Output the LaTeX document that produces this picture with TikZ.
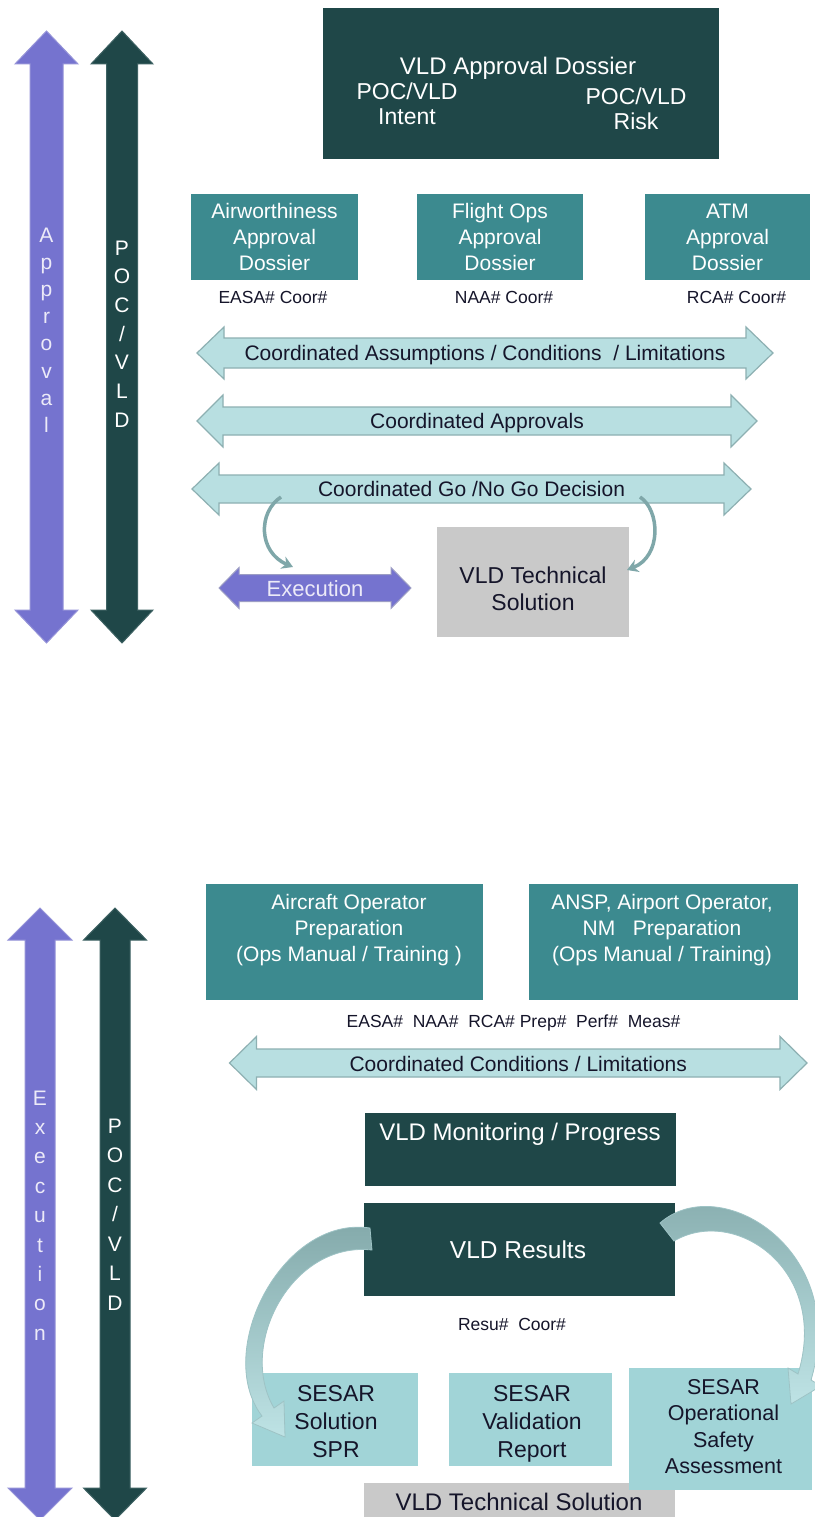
\documentclass[tikz,border=0pt]{standalone}
\usepackage{fontspec}
\setmainfont{Liberation Sans}
\usetikzlibrary{arrows.meta}

\definecolor{vpurple}{HTML}{7573CF}
\definecolor{vpurpleedge}{HTML}{9593D8}
\definecolor{deepteal}{HTML}{1F4748}
\definecolor{deeptealedge}{HTML}{3E6263}
\definecolor{boxteal}{HTML}{3C8A8F}
\definecolor{palecyan}{HTML}{B8DFE1}
\definecolor{palecyanedge}{HTML}{8DB0B2}
\definecolor{sesarcyan}{HTML}{A1D4D7}
\definecolor{techgray}{HTML}{C9C9C9}
\definecolor{curvedark}{HTML}{82A8A9}
\definecolor{curvemid}{HTML}{7FA7A9}
\definecolor{curvelight}{HTML}{BEE3E5}
\definecolor{curveedge}{HTML}{9EC3C5}
\definecolor{execedge}{HTML}{9C9DC4}
\definecolor{inktext}{HTML}{15152A}
\definecolor{lavwhite}{HTML}{ECEAF8}

% horizontal double block arrow:
% [style]{name}{x left tip}{x right tip}{y centre}{shaft half}{head half}{head length}
\newcommand\hdarrow[8][]{%
  \path[#1] (#3,#5) -- ({#3+#8},{#5-#7}) -- ({#3+#8},{#5-#6}) -- ({#4-#8},{#5-#6})
    -- ({#4-#8},{#5-#7}) -- (#4,#5) -- ({#4-#8},{#5+#7}) -- ({#4-#8},{#5+#6})
    -- ({#3+#8},{#5+#6}) -- ({#3+#8},{#5+#7}) -- cycle;
  \coordinate (#2) at ({(#3+#4)/2},#5);
}
% vertical double block arrow:
% [style]{name}{x centre}{y top tip}{y bottom tip}{shaft half}{head half}{head length}
\newcommand\vdarrow[8][]{%
  \path[#1] (#3,#4) -- ({#3+#7},{#4+#8}) -- ({#3+#6},{#4+#8}) -- ({#3+#6},{#5-#8})
    -- ({#3+#7},{#5-#8}) -- (#3,#5) -- ({#3-#7},{#5-#8}) -- ({#3-#6},{#5-#8})
    -- ({#3-#6},{#4+#8}) -- ({#3-#7},{#4+#8}) -- cycle;
  \coordinate (#2) at (#3,{(#4+#5)/2});
}

% multi-line texts are placed at the baseline of their last line
\tikzset{
  fs/.style 2 args={font=\fontsize{#1}{#2}\selectfont},
  wtext/.style={text=white, inner sep=0pt, align=center, anchor=base},
  ktext/.style={text=inktext, inner sep=0pt, align=center, anchor=base},
  vletter/.style={fs={21}{21}, inner sep=0pt, anchor=base},
  purplebar/.style={fill=vpurple, draw=vpurpleedge, line width=1pt},
  tealbar/.style={fill=deepteal, draw=deeptealedge, line width=1pt},
  cyanbar/.style={fill=palecyan, draw=palecyanedge, line width=1.2pt},
  execbar/.style={fill=vpurple, draw=execedge, line width=1pt},
  darkbox/.style={fill=deepteal},
  tealbox/.style={fill=boxteal},
  sesarbox/.style={fill=sesarcyan},
  graybox/.style={fill=techgray},
  thincurve/.style={draw=curvemid, line width=3.5pt, -{Stealth[length=11pt,width=13pt]}},
  bigcurve/.style={top color=curvedark, bottom color=curvelight, draw=curveedge, line width=0.8pt},
}

\begin{document}
\begin{tikzpicture}[x=1pt,y=-1pt]
\useasboundingbox[fill=white] (0,0) rectangle (814,1517);

% ================= approval phase =================
\vdarrow[purplebar]{approvalbar}{46.5}{31}{643}{16.5}{31.5}{33}
\vdarrow[tealbar]{pocbar1}{122}{31}{643}{15.5}{31}{33}
\foreach \ch [count=\i] in {A,p,p,r,o,v,a,l}
  \node[vletter, text=lavwhite] (appr-\i) at (46.5,{242+27.2*(\i-1)}) {\ch};
\foreach \ch [count=\i] in {P,O,C,/,V,L,D}
  \node[vletter, text=white] (pocA-\i) at (122,{255+28.7*(\i-1)}) {\ch};

% dossier
\path[darkbox] (323,8) rectangle (719,159);
\node[wtext, fs={24}{24}] (dossier) at (518,75) {VLD Approval Dossier};
\node[wtext, fs={23}{25}] (intent) at (407,125) {POC/VLD\\Intent};
\node[wtext, fs={23}{25}] (risk) at (636,130) {POC/VLD\\Risk};

% approval dossiers per domain
\path[tealbox] (191,194) rectangle (358,280);
\path[tealbox] (417,194) rectangle (583,280);
\path[tealbox] (645,194) rectangle (810,280);
\node[wtext, fs={21}{26}] (airw) at (274.5,270) {Airworthiness\\Approval\\Dossier};
\node[wtext, fs={21}{26}] (fops) at (500,270) {Flight Ops\\Approval\\Dossier};
\node[wtext, fs={21}{26}] (atm) at (727.5,270) {ATM\\Approval\\Dossier};
\node[ktext, fs={17.5}{17.5}] (easa) at (273,303) {EASA\# Coor\#};
\node[ktext, fs={17.5}{17.5}] (naa) at (504,303) {NAA\# Coor\#};
\node[ktext, fs={17.5}{17.5}] (rca) at (736.5,303) {RCA\# Coor\#};

% coordination arrows
\hdarrow[cyanbar]{assump}{197}{773}{353}{15}{26}{27}
\hdarrow[cyanbar]{approvals}{197}{757}{421}{14}{26}{26}
\hdarrow[cyanbar]{gonogo}{192}{751}{489}{14}{26}{27}
\node[ktext, fs={21}{21}] (assump-t) at ([yshift=-7.5pt]assump) {Coordinated Assumptions / Conditions~ / Limitations};
\node[ktext, fs={21}{21}] (approvals-t) at ([yshift=-7.5pt]approvals) {Coordinated Approvals};
\node[ktext, fs={21}{21}] (gonogo-t) at ([yshift=-7.5pt]gonogo) {Coordinated Go /No Go Decision};

% execution and technical solution
\hdarrow[execbar]{execarrow}{219}{411}{588}{13.5}{20.5}{20}
\node[wtext, fs={22}{22}, text=lavwhite] (exec-t) at ([yshift=-8pt]execarrow) {Execution};
\path[graybox] (437,527) rectangle (629,637);
\node[ktext, fs={23}{27}] (techsol) at (533,610) {VLD Technical\\Solution};

\coordinate (gl-s) at (281,497);
\coordinate (ex-in) at (293,567);
\coordinate (gr-s) at (640,497);
\coordinate (tk-in) at (627,570);
\draw[thincurve] (gl-s) .. controls (258,512) and (258,552) .. (ex-in);
\draw[thincurve] (gr-s) .. controls (660,510) and (662,556) .. (tk-in);

% ================= execution phase =================
\vdarrow[purplebar]{execbar2}{40}{908}{1520}{15}{32}{32}
\vdarrow[tealbar]{pocbar2}{115}{908}{1520}{15}{31.5}{32}
\foreach \ch [count=\i] in {E,x,e,c,u,t,i,o,n}
  \node[vletter, text=lavwhite] (execl-\i) at (40,{1105+29.4*(\i-1)}) {\ch};
\foreach \ch [count=\i] in {P,O,C,/,V,L,D}
  \node[vletter, text=white] (pocB-\i) at (115,{1133+29.5*(\i-1)}) {\ch};

\path[tealbox] (206,884) rectangle (483,1000);
\path[tealbox] (529,884) rectangle (798,1000);
\node[wtext, fs={21}{26}] (acop) at (349,961) {Aircraft Operator\\Preparation\\(Ops Manual / Training~)};
\node[wtext, fs={21}{26}] (ansp) at (662,961) {ANSP, Airport Operator,\\NM~~~Preparation\\(Ops Manual / Training)};
\node[ktext, fs={17.5}{17.5}] (prep) at (513.5,1027) {EASA\#~~NAA\#~~RCA\# Prep\#~~Perf\#~~Meas\#};

\hdarrow[cyanbar]{condlim}{229.5}{807}{1063}{14}{26.5}{27}
\node[ktext, fs={21}{21}] (condlim-t) at ([yshift=-8pt]condlim) {Coordinated Conditions / Limitations};

\path[darkbox] (365,1113) rectangle (676,1186);
\node[wtext, fs={24}{24}] (monit) at (520,1140) {VLD Monitoring / Progress};
\path[darkbox] (364,1203) rectangle (675,1296);
\node[wtext, fs={24.5}{24.5}] (results) at (518,1258) {VLD Results};
\node[ktext, fs={17.5}{17.5}] (resu) at (512,1330) {Resu\#~~Coor\#};

\path[graybox] (364,1483) rectangle (675,1522);
\node[ktext, fs={24}{24}] (techsol2) at (519,1510) {VLD Technical Solution};

\path[sesarbox] (252,1373) rectangle (418,1466);
\path[sesarbox] (449,1373) rectangle (612,1466);
\path[sesarbox] (629,1368) rectangle (812,1490);
\node[ktext, fs={23}{28}] (spr) at (336,1457) {SESAR\\Solution\\SPR};
\node[ktext, fs={23}{28}] (valrep) at (532,1457) {SESAR\\Validation\\Report};
\node[ktext, fs={21.5}{26.5}] (osa) at (723.5,1473.5) {SESAR\\Operational\\Safety\\Assessment};

% result flows
\path[bigcurve] (370,1228) .. controls (282,1215) and (213,1352) .. (262,1416)
  -- (252,1423) -- (285,1437) -- (284,1401) -- (274,1408)
  .. controls (237,1345) and (292,1241) .. (372,1250) -- cycle;
\path[bigcurve] (660,1223) .. controls (720,1170) and (850,1250) .. (811,1380)
  -- (821,1386) -- (791,1404) -- (788,1368) -- (798,1374)
  .. controls (830,1270) and (735,1205) .. (674,1241) -- cycle;
\end{tikzpicture}
\end{document}
